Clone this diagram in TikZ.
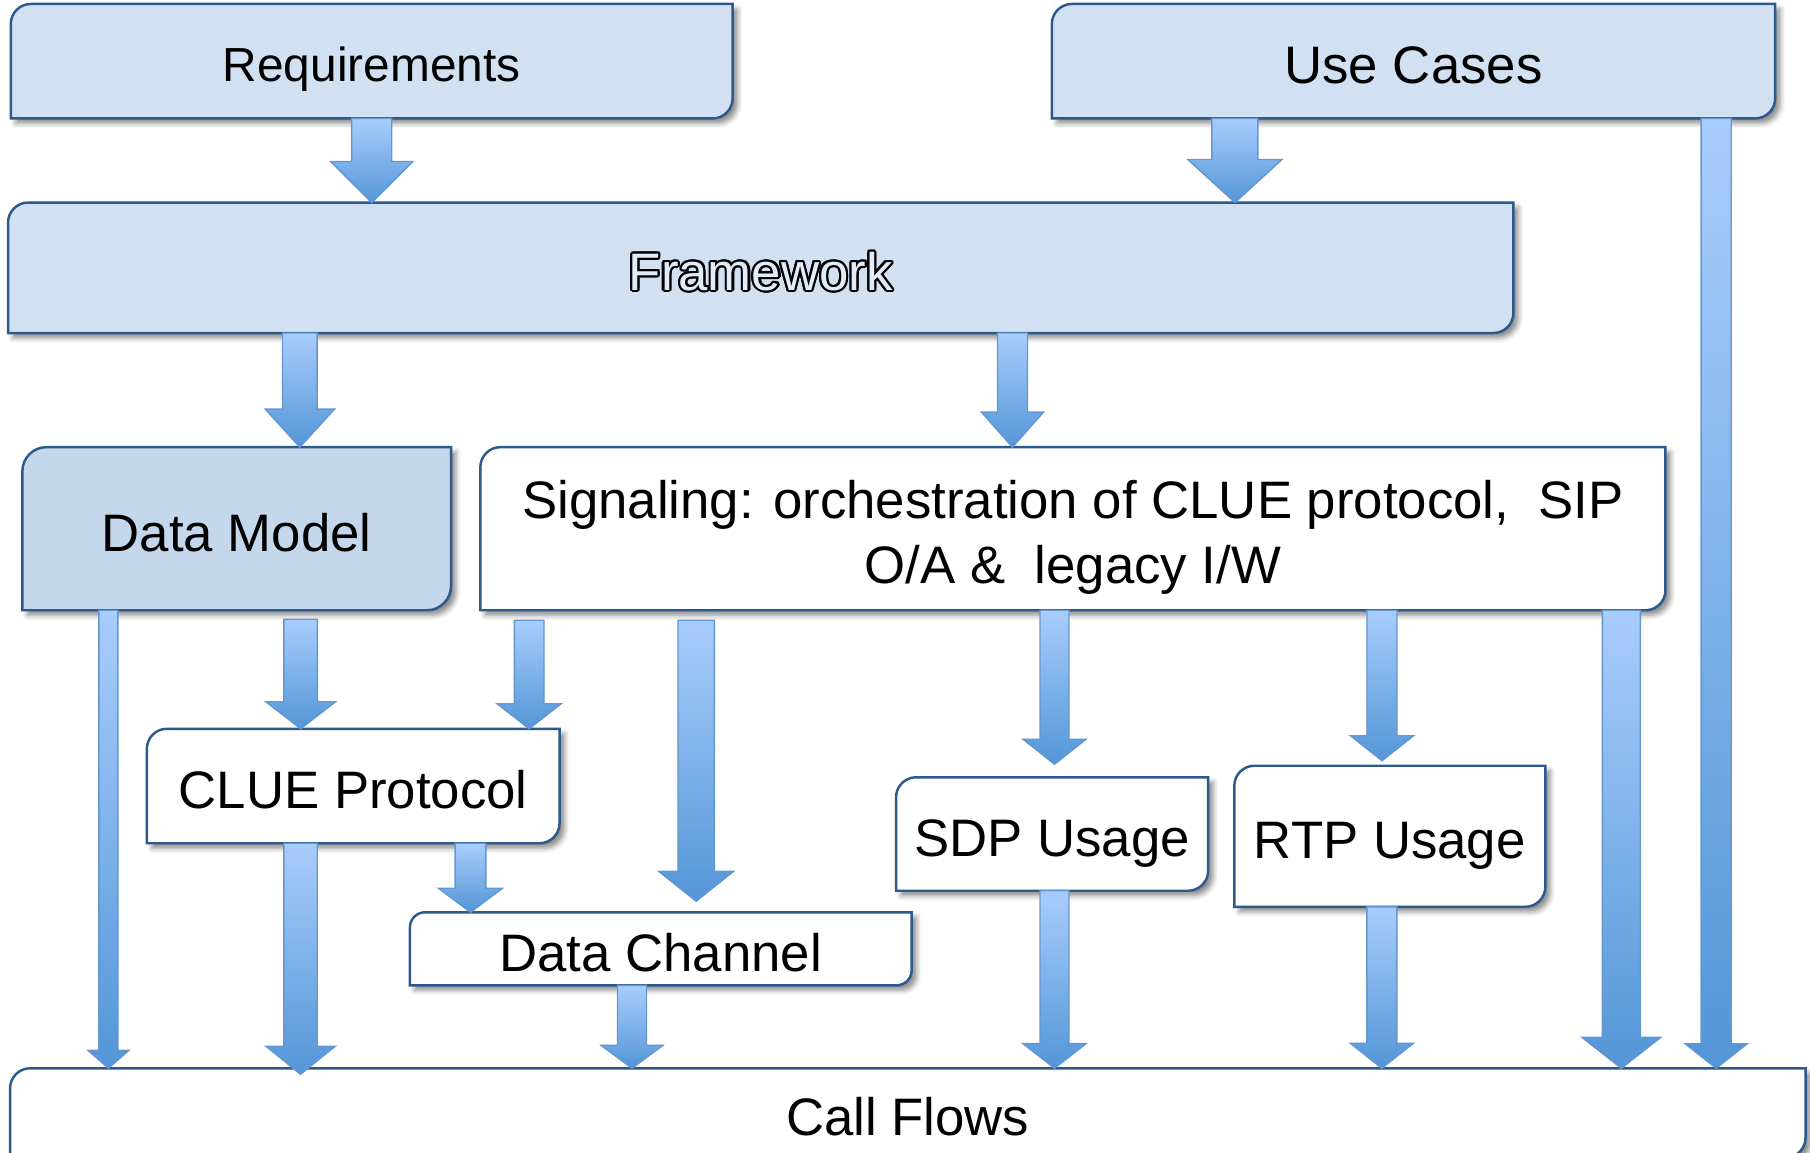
\documentclass[tikz,border=0pt]{standalone}
\usepackage{fontspec}
\setmainfont{Liberation Sans}
\usepackage{contour}
\contourlength{0.6pt}
\usetikzlibrary{calc,positioning,backgrounds,shadows.blur}

\definecolor{boxfill}{RGB}{210,225,242}
\definecolor{modelfill}{RGB}{197,215,234}
\definecolor{boxedge}{RGB}{44,90,140}
\definecolor{arrowtop}{RGB}{168,205,252}
\definecolor{arrowbottom}{RGB}{84,150,216}
\definecolor{arrowedge}{RGB}{100,150,210}
\definecolor{hollow}{RGB}{226,236,248}

% box with round top left and bottom right corners
\newcommand{\diagbox}[3]{%
  \path[boxline, fill=#2] let \p1=(#1.south west), \p2=(#1.north east) in
    (\x1,\y1) -- (\x1,\y2-#3) .. controls (\x1,\y2-0.45*#3) and (\x1+0.45*#3,\y2) .. (\x1+#3,\y2)
    -- (\x2,\y2) -- (\x2,\y1+#3) .. controls (\x2,\y1+0.45*#3) and (\x2-0.45*#3,\y1) .. (\x2-#3,\y1) -- cycle;}
% block arrow: start, end (y only), shaft half width, head half width, head length
\newcommand{\fatarrow}[5]{%
  \path[arrowbody] let \p1=#1, \p2=#2 in
    (\x1-#3,\y1) -- (\x1+#3,\y1) -- (\x1+#3,\y2+#5) -- (\x1+#4,\y2+#5)
    -- (\x1,\y2) -- (\x1-#4,\y2+#5) -- (\x1-#3,\y2+#5) -- cycle;}

\begin{document}
\begin{tikzpicture}[x=0.01cm,y=-0.01cm,
  block/.style={inner sep=0pt, align=center, font=\fontsize{15}{18.4}\selectfont, text height=14.25pt, text depth=1.5pt},
  boxline/.style={draw=boxedge, line width=0.7pt, blur shadow={shadow xshift=0.05cm, shadow yshift=-0.05cm, shadow blur radius=0.05cm, shadow opacity=45}},
  arrowbody/.style={top color=arrowtop, bottom color=arrowbottom, draw=arrowedge, line width=0.4pt}]
\useasboundingbox (0,0) rectangle (1810,1152);

\node (req) at (371.7,61.2)[block, minimum width=7.20cm, minimum height=1.13cm, font=\fontsize{13.6}{16}\selectfont, text height=12.9pt, text depth=1.36pt] {Requirements};
\node (use) at (1413.5,61.2)[block, minimum width=7.215cm, minimum height=1.13cm] {Use Cases};
\node (fw) at (760.7,267.8)[block, minimum width=15.03cm, minimum height=1.29cm] {\textcolor{hollow}{\contour{black}{Framework}}};
\node (dm) at (236.7,528.7)[block, minimum width=4.27cm, minimum height=1.616cm] {Data Model};
\node (sig) at (1072.9,528.7)[block, minimum width=11.83cm, minimum height=1.616cm, text height=32.65pt] {Signaling: orchestration of CLUE protocol,~ SIP\\O/A \&~ legacy I/W};
\node (clue) at (353.2,786)[block, minimum width=4.11cm, minimum height=1.13cm] {CLUE Protocol};
\node (dc) at (660.8,948.8)[block, minimum width=5.00cm, minimum height=0.716cm] {Data Channel};
\node (sdp) at (1052.1,834)[block, minimum width=3.105cm, minimum height=1.12cm] {SDP Usage};
\node (rtp) at (1389.8,836.3)[block, minimum width=3.094cm, minimum height=1.396cm] {RTP Usage};
\node (cf) at (907.8,1113)[block, minimum width=17.93cm, minimum height=0.88cm] {Call Flows};

\begin{scope}[on background layer]
\diagbox{req}{boxfill}{0.2cm}
\diagbox{use}{boxfill}{0.2cm}
\diagbox{fw}{boxfill}{0.2cm}
\diagbox{dm}{modelfill}{0.24cm}
\diagbox{sig}{white}{0.2cm}
\diagbox{clue}{white}{0.2cm}
\diagbox{dc}{white}{0.15cm}
\diagbox{sdp}{white}{0.2cm}
\diagbox{rtp}{white}{0.2cm}
\diagbox{cf}{white}{0.2cm}
\end{scope}

\fatarrow{(req.south)}{(fw.north)}{0.20cm}{0.41cm}{0.41cm}
\fatarrow{([xshift=-1.785cm]use.south)}{(fw.north)}{0.23cm}{0.47cm}{0.43cm}
\fatarrow{([xshift=3.025cm]use.south)}{(cf.north)}{0.15cm}{0.31cm}{0.245cm}
\fatarrow{([xshift=-4.606cm]fw.south)}{(dm.north)}{0.173cm}{0.346cm}{0.38cm}
\fatarrow{([xshift=2.516cm]fw.south)}{(sig.north)}{0.15cm}{0.31cm}{0.35cm}
\fatarrow{([xshift=-1.282cm]dm.south)}{(cf.north)}{0.095cm}{0.205cm}{0.18cm}
\fatarrow{([xshift=0.639cm,yshift=-0.09cm]dm.south)}{(clue.north)}{0.167cm}{0.348cm}{0.27cm}
\fatarrow{([xshift=-5.434cm,yshift=-0.1cm]sig.south)}{(clue.north)}{0.148cm}{0.32cm}{0.25cm}
\fatarrow{([xshift=-3.765cm,yshift=-0.1cm]sig.south)}{([yshift=0.11cm]dc.north)}{0.182cm}{0.375cm}{0.30cm}
\fatarrow{([xshift=-0.184cm]sig.south)}{([yshift=0.13cm]sdp.north)}{0.145cm}{0.315cm}{0.25cm}
\fatarrow{([xshift=3.089cm]sig.south)}{([yshift=0.05cm]rtp.north)}{0.15cm}{0.315cm}{0.25cm}
\fatarrow{([xshift=5.481cm]sig.south)}{(cf.north)}{0.19cm}{0.395cm}{0.31cm}
\fatarrow{([xshift=-0.526cm]clue.south)}{([yshift=-0.06cm]cf.north)}{0.167cm}{0.346cm}{0.28cm}
\fatarrow{([xshift=1.172cm]clue.south)}{(dc.north)}{0.154cm}{0.32cm}{0.24cm}
\fatarrow{([xshift=-0.288cm]dc.south)}{(cf.north)}{0.145cm}{0.31cm}{0.23cm}
\fatarrow{([xshift=0.024cm]sdp.south)}{(cf.north)}{0.145cm}{0.315cm}{0.246cm}
\fatarrow{([xshift=-0.08cm]rtp.south)}{(cf.north)}{0.15cm}{0.315cm}{0.25cm}
\end{tikzpicture}
\end{document}
